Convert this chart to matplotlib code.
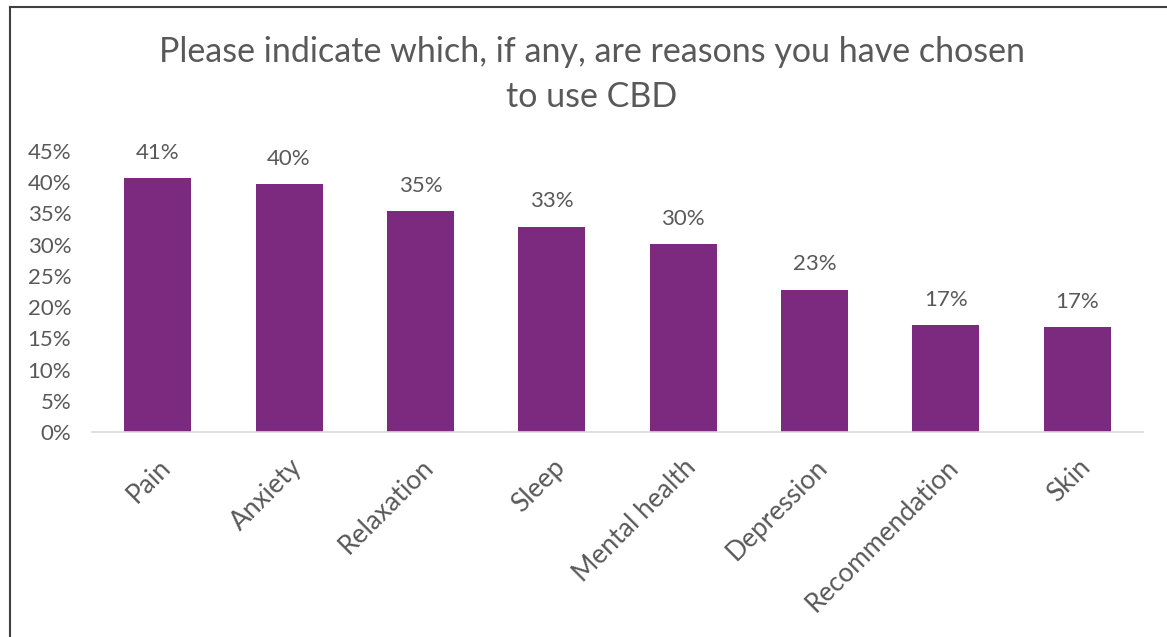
import matplotlib.pyplot as plt
from matplotlib.lines import Line2D
from matplotlib.ticker import PercentFormatter

plt.rcParams["font.family"] = ["Lato", "DejaVu Sans"]

categories = ["Pain", "Anxiety", "Relaxation", "Sleep", "Mental health",
              "Depression", "Recommendation", "Skin"]
shares = [0.406, 0.397, 0.354, 0.329, 0.301, 0.228, 0.171, 0.168]
y_ticks = [0.0, 0.05, 0.10, 0.15, 0.20, 0.25, 0.30, 0.35, 0.40, 0.45]

TEXT = "#595959"
BAR = "#7B2A80"

fig = plt.figure(figsize=(11.67, 6.37), dpi=100)
ax = fig.add_axes([92 / 1167, 1 - 432 / 637, (1143 - 92) / 1167, (432 - 151) / 637])

x = range(len(categories))
bars = ax.bar(x, shares, width=0.51, color=BAR, zorder=2)
for rect, v in zip(bars, shares):
    ax.annotate(f"{v:.0%}", (rect.get_x() + rect.get_width() / 2, v),
                xytext=(0, 11), textcoords="offset points",
                ha="center", va="bottom", fontsize=16, color=TEXT)

ax.set_xlim(-0.5, len(categories) - 0.5)
ax.set_ylim(0, 0.45)
ax.set_yticks(y_ticks)
ax.yaxis.set_major_formatter(PercentFormatter(1.0, decimals=0))
ax.tick_params(axis="y", length=0, labelsize=16, labelcolor=TEXT, pad=15)
ax.set_xticks(list(x))
ax.set_xticklabels(categories, rotation=45, ha="right", va="top",
                   rotation_mode="anchor", fontsize=19, color=TEXT)
ax.tick_params(axis="x", length=0, pad=16)

for side in ("top", "right", "left"):
    ax.spines[side].set_visible(False)
ax.spines["bottom"].set_color("#d9d9d9")
ax.spines["bottom"].set_linewidth(1.2)

fig.text(0.507, 1 - 52 / 637, "Please indicate which, if any, are reasons you have chosen",
         ha="center", va="center", fontsize=24.5, color=TEXT)
fig.text(0.507, 1 - 97 / 637, "to use CBD",
         ha="center", va="center", fontsize=24.5, color=TEXT)

# frame edges around the chart
fig.add_artist(Line2D([10 / 1167, 10 / 1167], [0, 1 - 7 / 637],
                      transform=fig.transFigure, color="#404040", lw=1.5))
fig.add_artist(Line2D([10 / 1167, 1], [1 - 7 / 637, 1 - 7 / 637],
                      transform=fig.transFigure, color="#404040", lw=1.5))

fig.savefig("out.png", dpi=100)
